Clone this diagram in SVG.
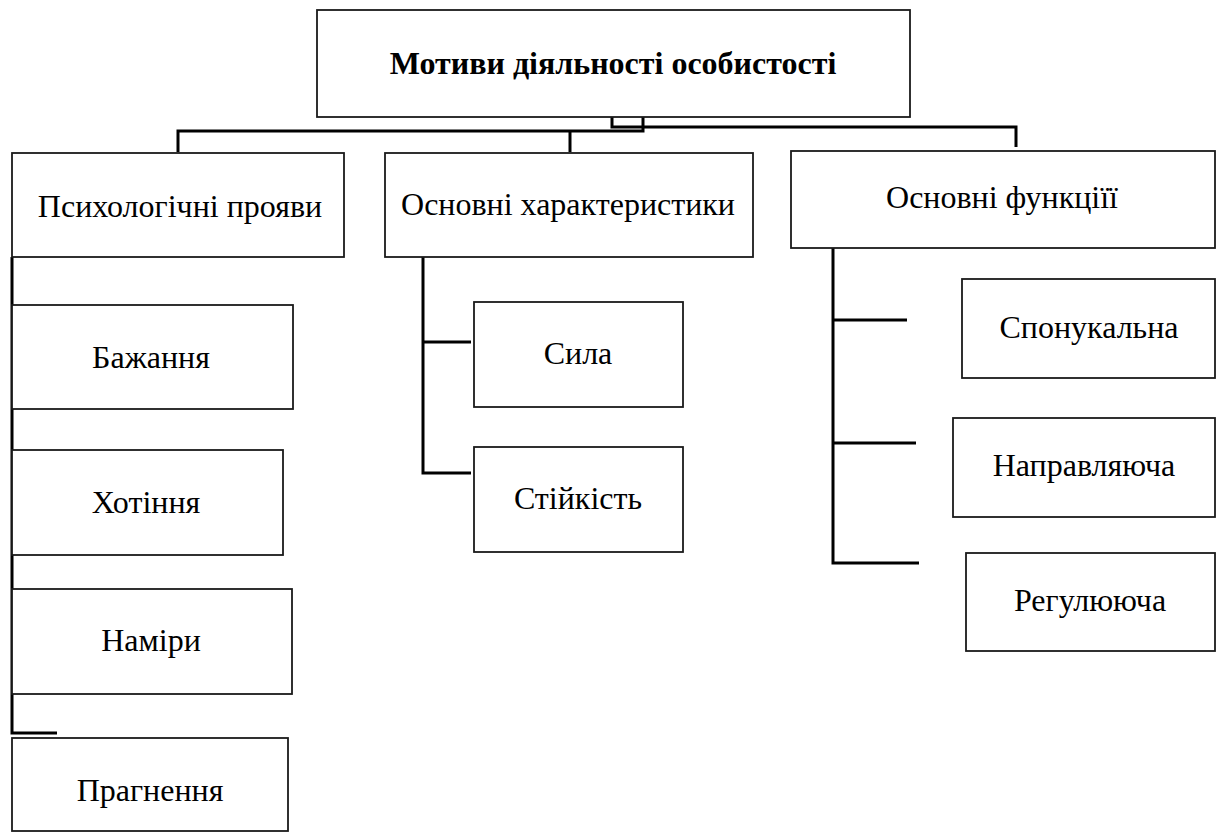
<svg xmlns="http://www.w3.org/2000/svg" width="1219" height="840" viewBox="0 0 1219 840">
<style>
.box{fill:#fff;stroke:#1a1a1a;stroke-width:1.8}
.t{font-family:"Liberation Serif","Times New Roman",serif;font-size:32px;fill:#000;text-anchor:middle}
.tb{font-weight:bold}
.c{fill:none;stroke:#000;stroke-width:3}
</style>
<rect width="1219" height="840" fill="#fff"/>
<g id="connectors">
<path class="c" d="M643 117 V131 H178 V152"/>
<path class="c" d="M612 117 V127 H1016 V147"/>
<path class="c" d="M570 131 V152"/>
<path class="c" d="M12 257 V733 H57"/>
<path class="c" d="M423 257 V473 H471 M423 342 H471"/>
<path class="c" d="M833 248 V563 H919 M833 320 H907 M833 443 H916"/>
</g>
<g id="root"><rect class="box" x="317" y="10" width="593" height="107"/><text class="t tb" x="613" y="74">Мотиви діяльності особистості</text></g>
<g id="psych"><rect class="box" x="12" y="153" width="332" height="104"/><text class="t" x="180" y="217">Психологічні прояви</text></g>
<g id="chars"><rect class="box" x="385" y="153" width="368" height="104"/><text class="t" x="568" y="215">Основні характеристики</text></g>
<g id="funcs"><rect class="box" x="791" y="151" width="424" height="97"/><text class="t" x="1002" y="208">Основні функціїї</text></g>
<g id="bazhannia"><rect class="box" x="12" y="305" width="281" height="104"/><text class="t" x="151" y="368">Бажання</text></g>
<g id="khotinnia"><rect class="box" x="12" y="450" width="271" height="105"/><text class="t" x="146" y="513">Хотіння</text></g>
<g id="namiry"><rect class="box" x="12" y="589" width="280" height="105"/><text class="t" x="151" y="651">Наміри</text></g>
<g id="prahnennia"><rect class="box" x="12" y="738" width="276" height="93"/><text class="t" x="150" y="801">Прагнення</text></g>
<g id="syla"><rect class="box" x="474" y="302" width="209" height="105"/><text class="t" x="578" y="364">Сила</text></g>
<g id="stiikist"><rect class="box" x="474" y="447" width="209" height="105"/><text class="t" x="578" y="509">Стійкість</text></g>
<g id="sponukalna"><rect class="box" x="962" y="279" width="253" height="99"/><text class="t" x="1089" y="338">Спонукальна</text></g>
<g id="napravliaiucha"><rect class="box" x="953" y="418" width="262" height="99"/><text class="t" x="1084" y="476">Направляюча</text></g>
<g id="rehuliuiucha"><rect class="box" x="966" y="553" width="249" height="98"/><text class="t" x="1090" y="611">Регулююча</text></g>
</svg>
